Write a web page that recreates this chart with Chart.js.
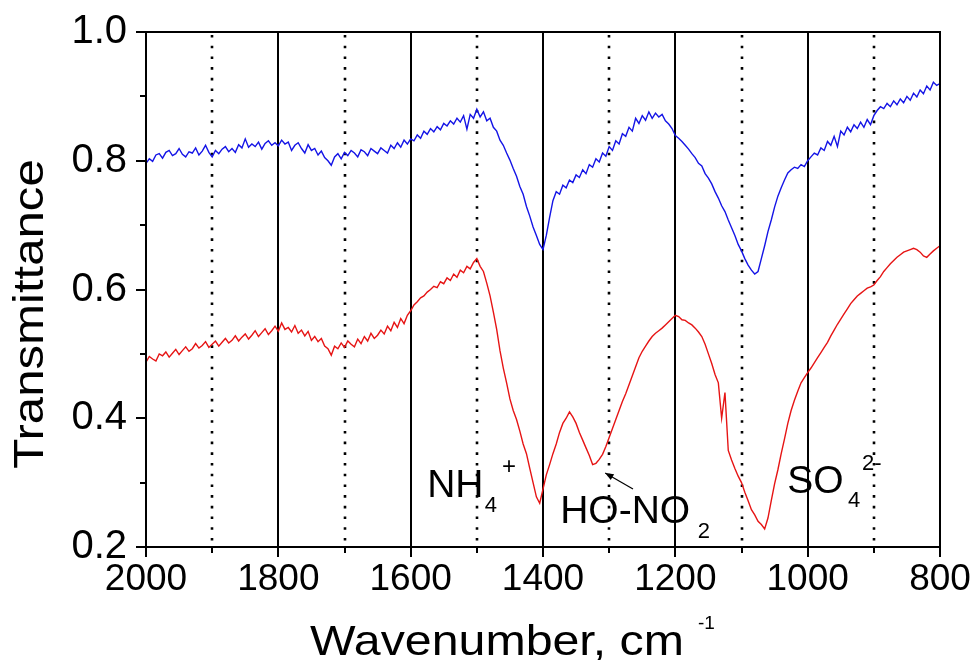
<!DOCTYPE html>
<html>
<head>
<meta charset="utf-8">
<script src="https://cdn.jsdelivr.net/npm/chart.js@4.4.1/dist/chart.umd.min.js"></script>
<style>
  html, body { margin: 0; padding: 0; background: #ffffff; }
  #wrap { width: 977px; height: 660px; position: relative; }
  canvas { display: block; }
</style>
</head>
<body>
<div id="wrap"><canvas id="c" width="977" height="660"></canvas></div>
<script>
// ---- Data ----
const wnStart = 2000, wnEnd = 800, wnStep = 5;
const wavenumbers = [];
for (let w = wnStart; w >= wnEnd; w -= wnStep) wavenumbers.push(w);

// upper (blue) spectrum, 2000 -> 800 cm-1, every 5 cm-1
const blueT = [
0.796,0.803,0.799,0.809,0.811,0.804,0.813,0.816,0.808,0.811,
0.819,0.810,0.806,0.814,0.812,0.820,0.809,0.815,0.824,0.813,
0.806,0.816,0.811,0.818,0.822,0.814,0.819,0.813,0.825,0.820,
0.834,0.821,0.826,0.822,0.829,0.818,0.827,0.831,0.824,0.828,
0.823,0.832,0.826,0.829,0.816,0.824,0.828,0.819,0.812,0.825,
0.816,0.819,0.809,0.815,0.805,0.800,0.793,0.806,0.811,0.803,
0.813,0.808,0.816,0.812,0.806,0.817,0.814,0.808,0.819,0.815,
0.811,0.820,0.816,0.812,0.824,0.819,0.828,0.821,0.832,0.826,
0.834,0.831,0.840,0.835,0.846,0.841,0.850,0.845,0.853,0.848,
0.858,0.854,0.862,0.857,0.866,0.860,0.870,0.849,0.872,0.866,
0.880,0.868,0.876,0.862,0.866,0.852,0.846,0.832,0.824,0.812,
0.801,0.788,0.776,0.760,0.748,0.729,0.714,0.697,0.684,0.670,
0.662,0.684,0.712,0.738,0.752,0.748,0.762,0.758,0.770,0.766,
0.778,0.774,0.786,0.780,0.794,0.790,0.803,0.798,0.812,0.807,
0.822,0.816,0.831,0.826,0.842,0.838,0.852,0.846,0.866,0.858,
0.870,0.863,0.876,0.866,0.874,0.868,0.872,0.862,0.857,0.850,
0.839,0.835,0.830,0.824,0.818,0.811,0.805,0.796,0.792,0.780,
0.773,0.764,0.752,0.742,0.730,0.721,0.708,0.696,0.684,0.670,
0.660,0.648,0.638,0.630,0.624,0.628,0.648,0.668,0.690,0.708,
0.728,0.745,0.758,0.770,0.781,0.786,0.790,0.788,0.794,0.791,
0.800,0.806,0.812,0.809,0.820,0.816,0.830,0.824,0.838,0.822,
0.846,0.840,0.852,0.845,0.856,0.850,0.860,0.852,0.864,0.856,
0.870,0.878,0.884,0.881,0.889,0.884,0.893,0.887,0.896,0.890,
0.900,0.894,0.905,0.899,0.910,0.904,0.916,0.910,0.922,0.917,
0.920
];

// lower (red) spectrum, 2000 -> 800 cm-1, every 5 cm-1
const redT = [
0.487,0.496,0.492,0.489,0.500,0.497,0.503,0.495,0.501,0.507,
0.499,0.505,0.511,0.504,0.508,0.516,0.509,0.513,0.519,0.510,
0.515,0.520,0.512,0.518,0.524,0.517,0.521,0.528,0.520,0.526,
0.531,0.523,0.529,0.536,0.527,0.533,0.539,0.530,0.536,0.543,
0.535,0.548,0.538,0.541,0.534,0.544,0.532,0.537,0.528,0.535,
0.521,0.527,0.519,0.524,0.512,0.508,0.498,0.512,0.508,0.517,
0.510,0.520,0.515,0.511,0.523,0.516,0.527,0.520,0.532,0.524,
0.529,0.537,0.531,0.543,0.536,0.549,0.541,0.555,0.547,0.560,
0.567,0.576,0.581,0.587,0.590,0.596,0.600,0.605,0.603,0.612,
0.609,0.618,0.614,0.624,0.619,0.630,0.626,0.636,0.632,0.642,
0.648,0.636,0.628,0.610,0.590,0.565,0.538,0.505,0.478,0.455,
0.430,0.412,0.398,0.380,0.360,0.345,0.322,0.300,0.278,0.268,
0.290,0.312,0.328,0.345,0.360,0.378,0.392,0.400,0.410,0.402,
0.392,0.378,0.366,0.354,0.342,0.328,0.330,0.336,0.344,0.356,
0.370,0.384,0.398,0.412,0.426,0.438,0.452,0.466,0.480,0.494,
0.504,0.512,0.520,0.527,0.532,0.536,0.540,0.545,0.550,0.555,
0.560,0.558,0.553,0.552,0.548,0.545,0.540,0.534,0.527,0.515,
0.500,0.485,0.468,0.455,0.400,0.440,0.350,0.335,0.322,0.310,
0.300,0.285,0.272,0.258,0.250,0.240,0.235,0.228,0.245,0.272,
0.298,0.320,0.345,0.368,0.392,0.412,0.428,0.442,0.455,0.463,
0.471,0.478,0.486,0.494,0.502,0.510,0.518,0.528,0.537,0.546,
0.554,0.562,0.570,0.578,0.584,0.590,0.594,0.598,0.602,0.604,
0.607,0.614,0.620,0.628,0.634,0.640,0.645,0.650,0.654,0.658,
0.660,0.662,0.664,0.662,0.658,0.652,0.650,0.655,0.660,0.664,
0.668
];

// axis ticks
const xMajorTicks = [2000, 1800, 1600, 1400, 1200, 1000, 800];
const xMinorTicks = [1900, 1700, 1500, 1300, 1100, 900];
const yMajorTicks = [0.2, 0.4, 0.6, 0.8, 1.0];
const yMinorTicks = [0.3, 0.5, 0.7, 0.9];
const solidGridLines = [1800, 1600, 1400, 1200, 1000];
const dottedGridLines = [1900, 1700, 1500, 1300, 1100, 900];

// band labels (anchored in data coordinates: wavenumber, transmittance)
const bandLabels = [
  { text: 'NH', wn: 1575, t: 0.278, size: 39 },
  { text: '4',  wn: 1488, t: 0.255, size: 22 },
  { text: '+',  wn: 1462, t: 0.314, size: 24 },
  { text: 'HO-NO', wn: 1374, t: 0.2376, size: 39 },
  { text: '2',  wn: 1166, t: 0.2143, size: 22 },
  { text: 'SO', wn: 1031, t: 0.284, size: 39 },
  { text: '4',  wn: 939, t: 0.262, size: 22 },
  { text: '2-', wn: 918, t: 0.320, size: 22 }
];
const arrowFrom = { wn: 1264, t: 0.290 };
const arrowTo   = { wn: 1306, t: 0.315 };

const FONT = '"Liberation Sans", Arial, Helvetica, sans-serif';

const decorations = {
  id: 'decorations',
  beforeDatasetsDraw(chart) {
    const { ctx, chartArea: a, scales: { x } } = chart;
    ctx.save();
    ctx.strokeStyle = '#000';
    ctx.lineWidth = 2;
    for (const v of solidGridLines) {
      const px = Math.round(x.getPixelForValue(v));
      ctx.beginPath(); ctx.moveTo(px, a.top); ctx.lineTo(px, a.bottom); ctx.stroke();
    }
    ctx.lineWidth = 2.6;
    ctx.setLineDash([2.6, 8.1]);
    for (const v of dottedGridLines) {
      const px = Math.round(x.getPixelForValue(v));
      ctx.beginPath(); ctx.moveTo(px, a.top + 3); ctx.lineTo(px, a.bottom); ctx.stroke();
    }
    ctx.restore();
  },
  afterDatasetsDraw(chart) {
    const { ctx, chartArea: a, scales: { x, y } } = chart;
    ctx.save();
    ctx.strokeStyle = '#000';
    ctx.lineWidth = 2;
    ctx.strokeRect(a.left, a.top, a.right - a.left, a.bottom - a.top);
    for (const v of xMajorTicks) {
      const px = Math.round(x.getPixelForValue(v));
      ctx.beginPath(); ctx.moveTo(px, a.bottom); ctx.lineTo(px, a.bottom + 10); ctx.stroke();
    }
    for (const v of xMinorTicks) {
      const px = Math.round(x.getPixelForValue(v));
      ctx.beginPath(); ctx.moveTo(px, a.bottom); ctx.lineTo(px, a.bottom + 6); ctx.stroke();
    }
    for (const v of yMajorTicks) {
      const py = Math.round(y.getPixelForValue(v));
      ctx.beginPath(); ctx.moveTo(a.left, py); ctx.lineTo(a.left - 10, py); ctx.stroke();
    }
    for (const v of yMinorTicks) {
      const py = Math.round(y.getPixelForValue(v));
      ctx.beginPath(); ctx.moveTo(a.left, py); ctx.lineTo(a.left - 6, py); ctx.stroke();
    }
    ctx.fillStyle = '#000';
    ctx.textAlign = 'left';
    ctx.textBaseline = 'alphabetic';
    for (const l of bandLabels) {
      ctx.font = l.size + 'px ' + FONT;
      ctx.fillText(l.text, x.getPixelForValue(l.wn), y.getPixelForValue(l.t));
    }
    const x0 = x.getPixelForValue(arrowFrom.wn), y0 = y.getPixelForValue(arrowFrom.t);
    const x1 = x.getPixelForValue(arrowTo.wn), y1 = y.getPixelForValue(arrowTo.t);
    ctx.lineWidth = 1.2;
    ctx.beginPath(); ctx.moveTo(x0, y0); ctx.lineTo(x1, y1); ctx.stroke();
    const ang = Math.atan2(y1 - y0, x1 - x0);
    const hl = 9, hw = 0.38;
    ctx.beginPath();
    ctx.moveTo(x1, y1);
    ctx.lineTo(x1 - hl * Math.cos(ang - hw), y1 - hl * Math.sin(ang - hw));
    ctx.lineTo(x1 - hl * Math.cos(ang + hw), y1 - hl * Math.sin(ang + hw));
    ctx.closePath(); ctx.fill();
    ctx.restore();
  },
  afterDraw(chart) {
    const { ctx } = chart;
    ctx.save();
    ctx.fillStyle = '#000';
    ctx.font = '42px ' + FONT;
    ctx.textAlign = 'center';
    ctx.textBaseline = 'alphabetic';
    ctx.save();
    ctx.translate(43, 314);
    ctx.rotate(-Math.PI / 2);
    ctx.scale(1.17, 1);
    ctx.fillText('Transmittance', 0, 0);
    ctx.restore();
    ctx.save();
    ctx.textAlign = 'left';
    ctx.translate(310, 655);
    ctx.scale(1.15, 1);
    ctx.fillText('Wavenumber, cm', 0, 0);
    ctx.restore();
    ctx.font = '19px ' + FONT;
    ctx.textAlign = 'left';
    ctx.fillText('-1', 698, 629);
    ctx.restore();
  }
};

const toPts = (arr) => wavenumbers.map((w, i) => ({ x: w, y: arr[i] }));

new Chart(document.getElementById('c'), {
  type: 'line',
  data: {
    datasets: [
      { label: 'upper', data: toPts(blueT), borderColor: '#1414e6', borderWidth: 1.4, pointRadius: 0, tension: 0, fill: false },
      { label: 'lower', data: toPts(redT), borderColor: '#e61414', borderWidth: 1.4, pointRadius: 0, tension: 0, fill: false }
    ]
  },
  options: {
    responsive: false,
    animation: false,
    devicePixelRatio: 1,
    layout: { autoPadding: false, padding: { left: 0, top: 32, right: 37, bottom: 0 } },
    plugins: { legend: { display: false }, tooltip: { enabled: false }, title: { display: false } },
    scales: {
      x: {
        type: 'linear', reverse: true, min: 800, max: 2000,
        grid: { display: false, drawTicks: false },
        border: { display: false },
        ticks: {
          stepSize: 100, autoSkip: false, maxRotation: 0, minRotation: 0, padding: 11,
          color: '#000', font: { family: FONT, size: 37 },
          callback: (v) => (Math.round(v) % 200 === 0 ? String(Math.round(v)) : '')
        },
        afterFit: (s) => { s.height = 113; s.paddingLeft = 0; s.paddingRight = 0; }
      },
      y: {
        type: 'linear', min: 0.2, max: 1.0,
        grid: { display: false, drawTicks: false },
        border: { display: false },
        ticks: {
          stepSize: 0.1, autoSkip: false, padding: 19,
          color: '#000', font: { family: FONT, size: 40 },
          callback: (v) => (Math.round(v * 10) % 2 === 0 ? v.toFixed(1) : '')
        },
        afterFit: (s) => { s.width = 146; s.paddingTop = 0; s.paddingBottom = 0; }
      }
    }
  },
  plugins: [decorations]
});
</script>
</body>
</html>
